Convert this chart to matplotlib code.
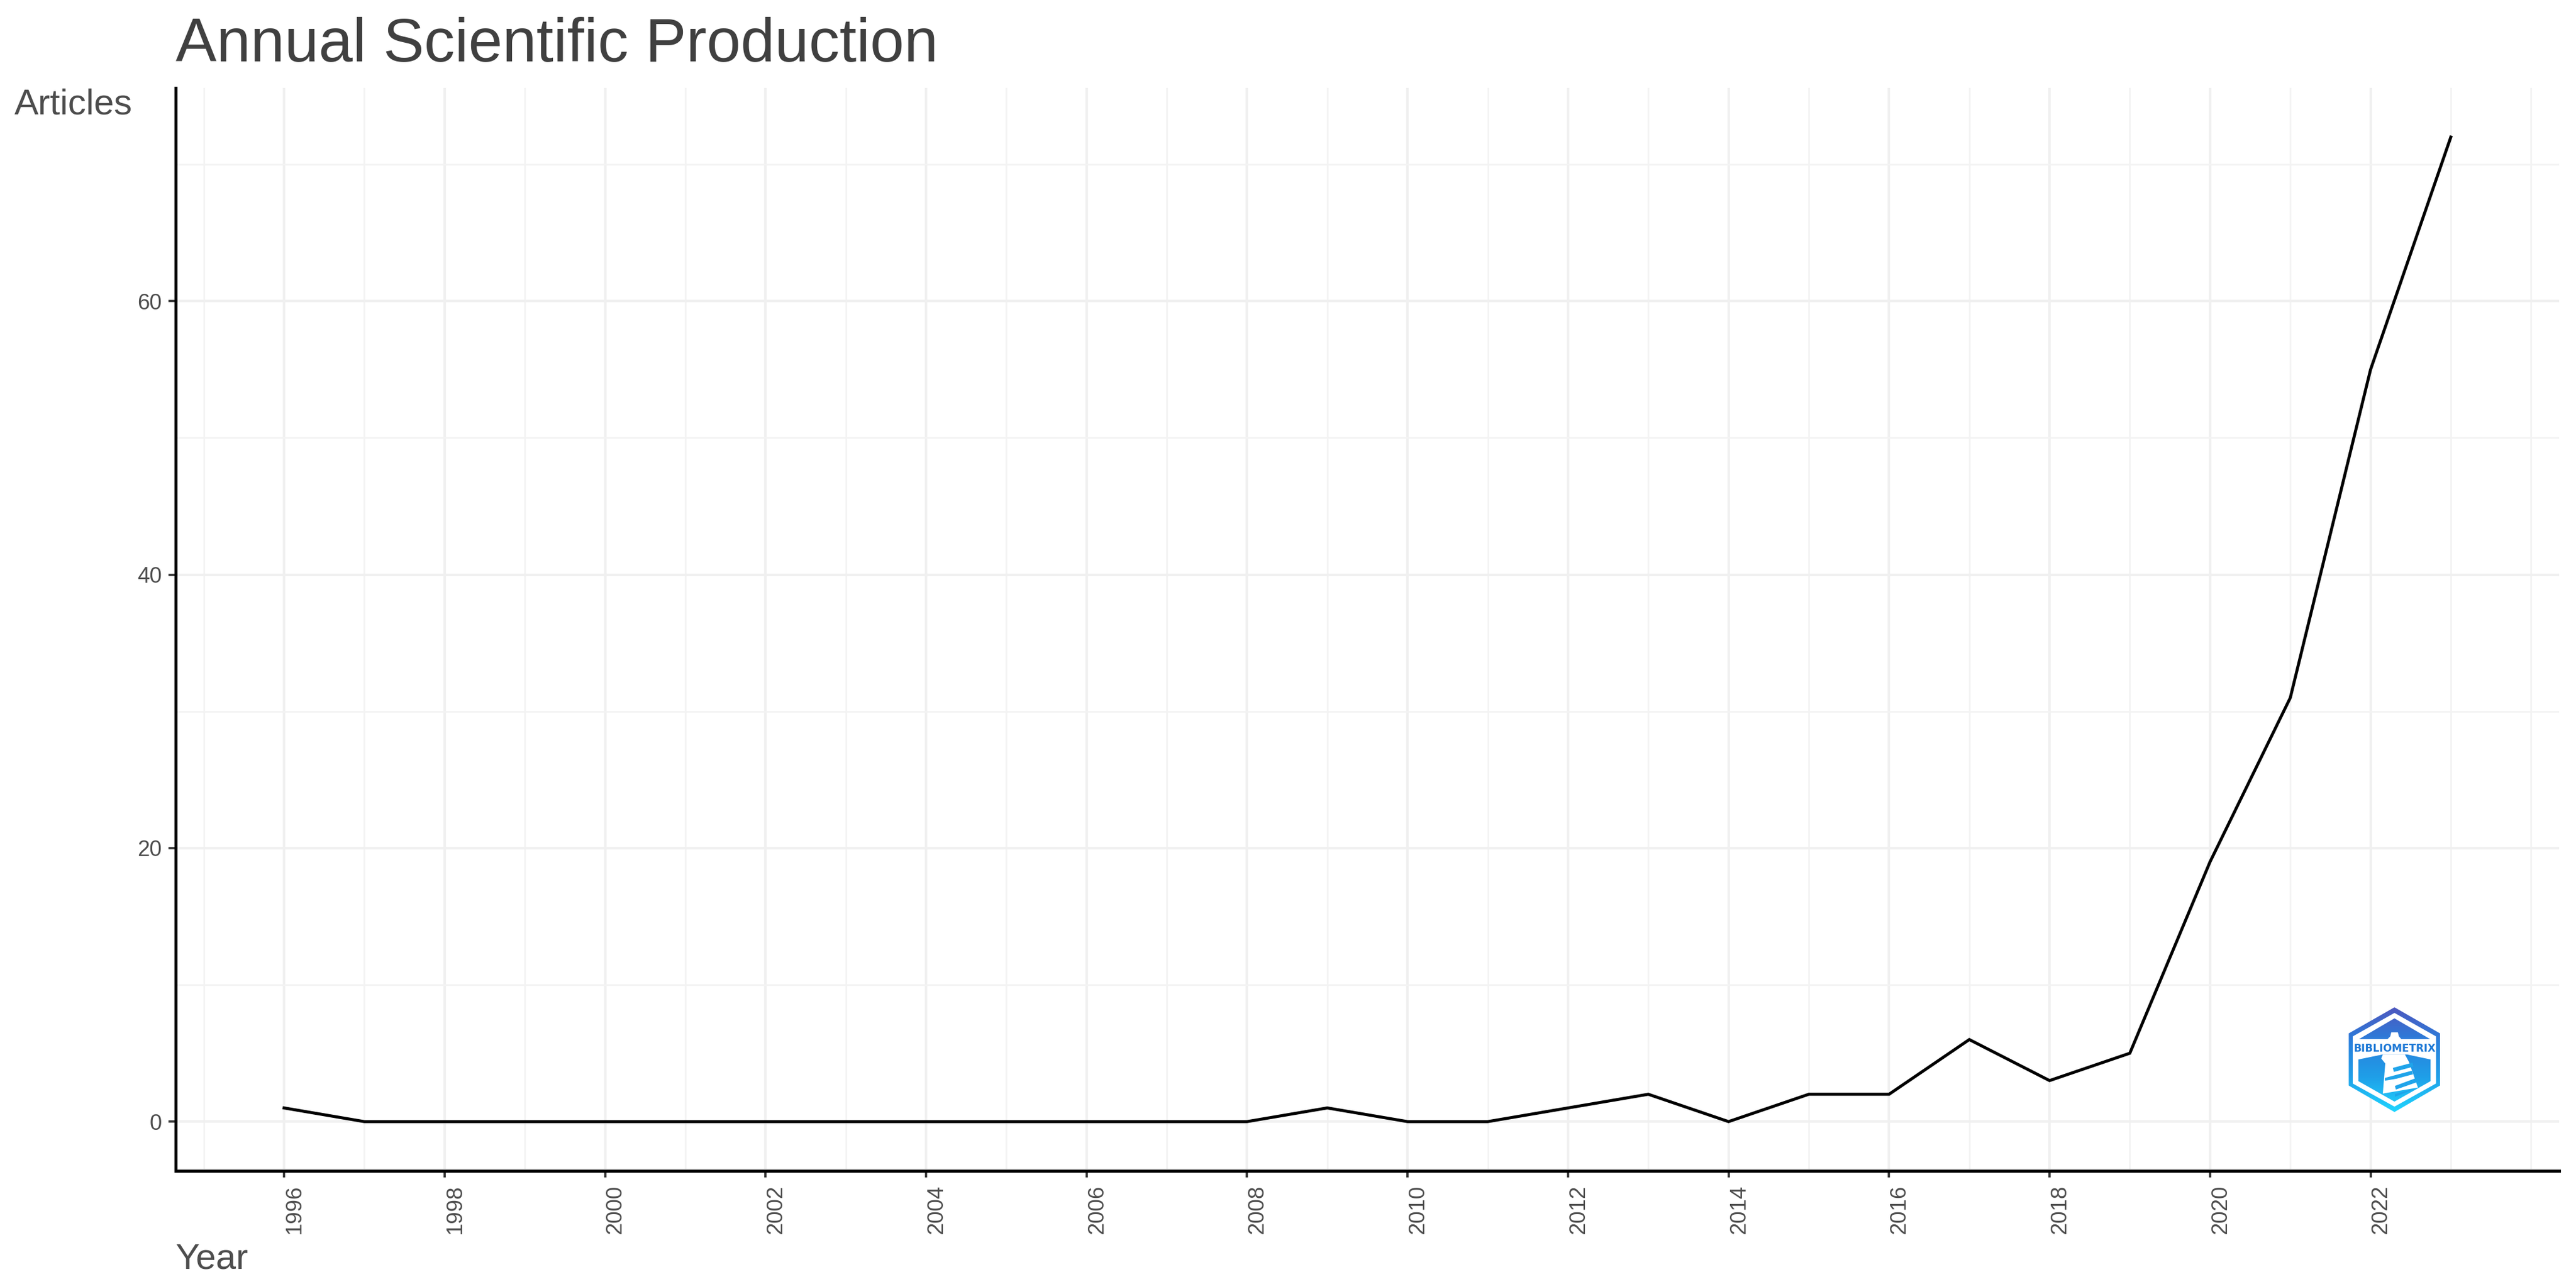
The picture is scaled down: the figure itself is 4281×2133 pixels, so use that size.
import numpy as np
import matplotlib
matplotlib.use('Agg')
import matplotlib.pyplot as plt
from matplotlib.colors import LinearSegmentedColormap
from matplotlib.patches import Polygon

plt.rcParams['font.family'] = ['Liberation Sans', 'DejaVu Sans']

years = list(range(1996, 2024))
articles = [1, 0, 0, 0, 0, 0, 0, 0, 0, 0, 0, 0, 0, 1, 0, 0, 1, 2, 0, 2, 2, 6, 3, 5, 19, 31, 55, 72]
x_ticks = list(range(1996, 2023, 2))
x_minor = [1995] + list(range(1997, 2024, 2)) + [2024]
y_ticks = [0, 20, 40, 60]
y_minor = [10, 30, 50, 70]

W, H = 4281, 2133
dpi = 300
fig = plt.figure(figsize=(W / dpi, H / dpi), dpi=dpi, facecolor='white')

# posicao do painel em pixels da imagem
left, right, top, bottom = 292, 4253, 146, 1945
ax = fig.add_axes([left / W, 1 - bottom / H, (right - left) / W, (bottom - top) / H])

ax.plot(years, articles, color='black', lw=1.2, zorder=3, solid_joinstyle='miter')
ax.set_xlim(1994.65, 2024.35)
ax.set_ylim(-3.6, 75.6)

ax.set_xticks(x_ticks)
ax.set_xticks(x_minor, minor=True)
ax.set_yticks(y_ticks)
ax.set_yticks(y_minor, minor=True)
ax.grid(which='major', color='#f0f0f0', lw=1.0)
ax.grid(which='minor', color='#f3f3f3', lw=0.65)
ax.set_axisbelow(True)

ax.tick_params(axis='x', which='major', length=2.7, width=0.9, color='#333333',
               labelsize=8.8, labelcolor='#4d4d4d', pad=3)
ax.tick_params(axis='y', which='major', length=2.9, width=0.9, color='#333333',
               labelsize=8.8, labelcolor='#4d4d4d', pad=2.6)
ax.tick_params(which='minor', length=0)
for lab in ax.get_xticklabels():
    lab.set_rotation(90)
    lab.set_horizontalalignment('left')
    lab.set_verticalalignment('top')

for s in ['top', 'right']:
    ax.spines[s].set_visible(False)
for s in ['left', 'bottom']:
    ax.spines[s].set_linewidth(1.2)
    ax.spines[s].set_color('black')

fig.text(292 / W, 1 - 102 / H, 'Annual Scientific Production', fontsize=24.43,
         color='#404040', ha='left', va='baseline')
fig.text(24 / W, 1 - 189 / H, 'Articles', fontsize=14.4, color='#4d4d4d',
         ha='left', va='baseline')
fig.text(292 / W, 1 - 2108 / H, 'Year', fontsize=14.4, color='#4d4d4d',
         ha='left', va='baseline')

# logo do bibliometrix (desenhado em coordenadas do recorte 900x780)
lx, ly = 3800, 1620
logo = fig.add_axes([lx / W, 1 - (ly + 260) / H, 300 / W, 260 / H], zorder=5)
logo.set_xlim(0, 900)
logo.set_ylim(780, 0)
logo.axis('off')
logo.patch.set_alpha(0)

cmap = LinearSegmentedColormap.from_list('logo', ['#4f55bd', '#2a7fdc', '#1f9fe8', '#1fd6ff'])
grad = np.linspace(0, 1, 256).reshape(-1, 1)


def gradiente(pontos, z=1):
    im = logo.imshow(grad, cmap=cmap, extent=(300, 780, 685, 155), aspect='auto', zorder=z)
    p = Polygon(pontos, closed=True, transform=logo.transData, facecolor='none', edgecolor='none')
    logo.add_patch(p)
    im.set_clip_path(p)


def branco(pontos, z=3):
    logo.add_patch(Polygon(pontos, closed=True, facecolor='white', edgecolor='none', zorder=z))


gradiente([(538, 160), (765, 290), (765, 550), (538, 682), (310, 550), (310, 290)])
branco([(538, 188), (745, 305), (745, 540), (538, 655), (330, 540), (330, 305)], z=2)

# partes internas
gradiente([(538, 215), (715, 318), (362, 318)], z=3)
gradiente([(358, 420), (480, 395), (600, 395), (718, 420), (718, 528), (538, 630), (358, 528)], z=3)
logo.set_xlim(0, 900)
logo.set_ylim(780, 0)

# farol
branco([(522, 285), (555, 285), (560, 305), (578, 325), (578, 345), (497, 345), (497, 325), (517, 305)], z=4)
branco([(480, 395), (590, 395), (610, 432), (655, 560), (480, 590), (492, 440), (472, 415)], z=4)
for faixa in [[(530, 462), (628, 436), (632, 456), (535, 482)],
              [(490, 512), (625, 476), (630, 494), (548, 516), (490, 526)],
              [(540, 552), (642, 514), (648, 534), (545, 570)],
              [(540, 592), (652, 562), (540, 606)]]:
    logo.add_patch(Polygon(faixa, closed=True, facecolor='#1fa4ea', edgecolor='none', zorder=5))

logo.text(538, 366, 'BIBLIOMETRIX', fontsize=4.1, fontweight='bold', color='#1c78d6',
          ha='center', va='center', family='DejaVu Sans', zorder=6)

fig.savefig('out.png', dpi=dpi, facecolor='white')
